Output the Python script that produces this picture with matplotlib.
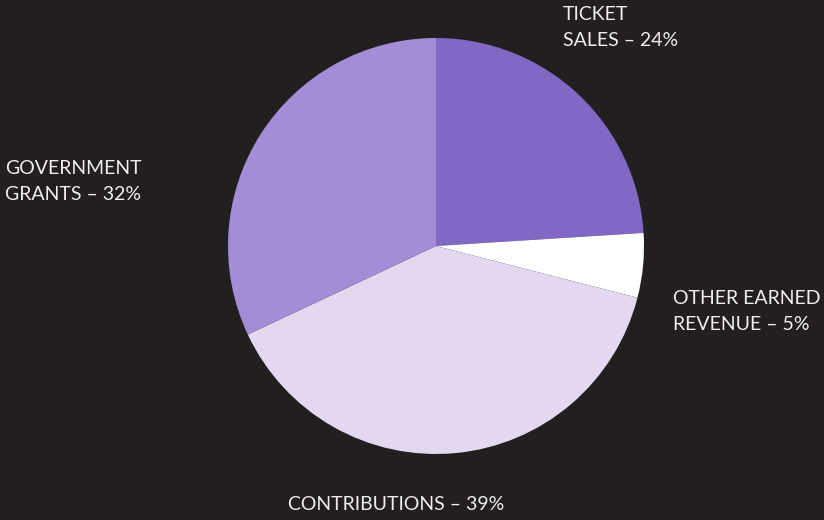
import matplotlib
matplotlib.use('Agg')
import matplotlib.pyplot as plt

# Revenue share (percent), clockwise from the top
categories = ['TICKET\nSALES', 'OTHER EARNED\nREVENUE', 'CONTRIBUTIONS', 'GOVERNMENT\nGRANTS']
shares = [24, 5, 39, 32]
colors = ['#8168C5', '#FFFFFF', '#E3D8F0', '#A28DD6']

BG = '#231F20'
TXT = '#EEEEEE'

W, H = 824, 520
fig = plt.figure(figsize=(W / 100, H / 100), dpi=100)
fig.patch.set_facecolor(BG)

# pie centre / radius in pixels
cx, cy, r = 436, 246, 208
ax = fig.add_axes([(cx - r) / W, (H - cy - r) / H, 2 * r / W, 2 * r / H])
ax.set_facecolor(BG)
ax.pie(shares, colors=colors, startangle=90, counterclock=False,
       radius=1, wedgeprops=dict(linewidth=0))
ax.set_xlim(-1, 1)
ax.set_ylim(-1, 1)
ax.set_aspect('equal')
ax.axis('off')

# label anchor points (pixels, top-left of text), alignment
label_pos = [(563, 6, 'left'), (673, 290, 'left'), (396, 496, 'center'), (5, 160, 'left')]
for name, val, (px, py, ha) in zip(categories, shares, label_pos):
    fig.text(px / W, 1 - py / H, f'{name} – {val}%', ha=ha, va='top',
             color=TXT, fontsize=14, family='Lato', linespacing=1.65)

fig.savefig('out.png', dpi=100, facecolor=BG)
